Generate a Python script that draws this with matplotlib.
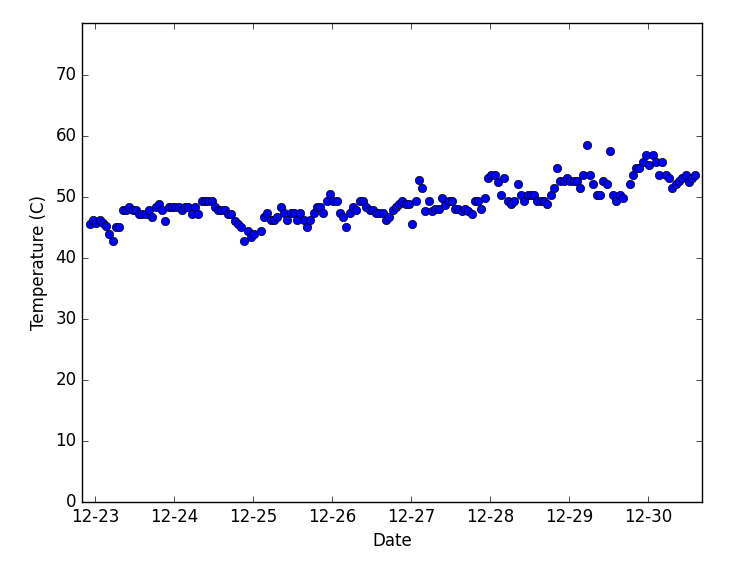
import numpy as np
import pandas as pd
import matplotlib
matplotlib.use("Agg")
import matplotlib.pyplot as plt
import matplotlib.dates as mdates

# hourly readings, first one at 12-22 22:20 (nan = missing hour)
start = "2016-12-22 22:20"
temps = [
    45.6, 46.2, 45.7, 46.2, 45.7, 45.2, 44.0, 42.8, 45.1, 45.1,
    47.8, 47.8, 48.3, 47.8, 47.8, 47.2, 47.2, 47.2, 47.8, 46.7,
    48.3, 48.9, 47.8, 46.1, 48.3, 48.3, 48.3, 48.3, 47.8, 48.3,
    48.3, 47.2, 48.3, 47.2, 49.4, 49.4, 49.4, 49.4, 48.3, 47.8,
    47.8, 47.8, 47.2, 47.2, 46.1, 45.6, 45.0, 42.8, 44.5, 43.4,
    43.9, np.nan, 44.5,
    46.7, 47.3, 46.2, 46.2, 46.7, 48.3, 47.3, 46.2, 47.3, 47.3,
    46.2, 47.3, 46.2, 45.1, 46.2, 47.3, 48.3, 48.3, 47.3, 49.4,
    50.5, 49.4, 49.4, 47.3, 46.7, 45.1, 47.3, 48.3, 47.8, 49.4,
    49.4, 48.3, 47.8, 47.8, 47.3, 47.3, 47.3, 46.2, 46.7, 47.8,
    48.3, 48.85, 49.4, 48.85, 48.85, 45.6, 49.4, 52.7,
    51.4, 47.7, 49.3, 47.7, 48.1, 48.1, 49.8, 48.7, 49.3, 49.3,
    48.1, 48.1, 47.7, 48.1, 47.7, 47.2, 49.3, 49.3, 48.1, 49.8,
    53.1, 53.6, 53.6, 52.5, 50.4, 53.1, 49.3, 48.8, 49.3, 52.1,
    50.4, 49.3, 50.4, 50.4, 50.4, 49.3, 49.3, 49.3, 48.8, 50.4,
    51.4, 54.7, 52.6, 52.6, 53.1, 52.6, 52.6, 52.6, 51.4, 53.6,
    58.5, 53.6, 52.1, 50.4, 50.4, 52.6, 52.1, 57.5, 50.4, 49.3,
    50.4, 49.8, np.nan, 52.1, 53.6, 54.7, 54.7, 55.8, 56.9, 55.2,
    56.9, 55.8, 53.6, 55.8, 53.6, 53.1, 51.4, 52.1, 52.6, 53.1,
    53.6, 52.5, 53.1, 53.6,
]
times = pd.date_range(start, periods=len(temps), freq="h")

plt.style.use("classic")
fig, ax = plt.subplots(figsize=(7.46, 5.64), dpi=100)
fig.subplots_adjust(left=0.110, right=0.941, bottom=0.110, top=0.959)

ax.plot(times, temps, "bo", markersize=6)

ax.set_xlim(pd.Timestamp("2016-12-22 20:00"), pd.Timestamp("2016-12-30 16:20"))
ax.set_ylim(0, np.nanmax(temps) + 20)
ax.xaxis.set_major_locator(mdates.DayLocator())
ax.xaxis.set_major_formatter(mdates.DateFormatter("%m-%d"))

ax.set_xlabel("Date")
ax.set_ylabel("Temperature (C)")

fig.savefig("out.png", dpi=100, facecolor="white")
